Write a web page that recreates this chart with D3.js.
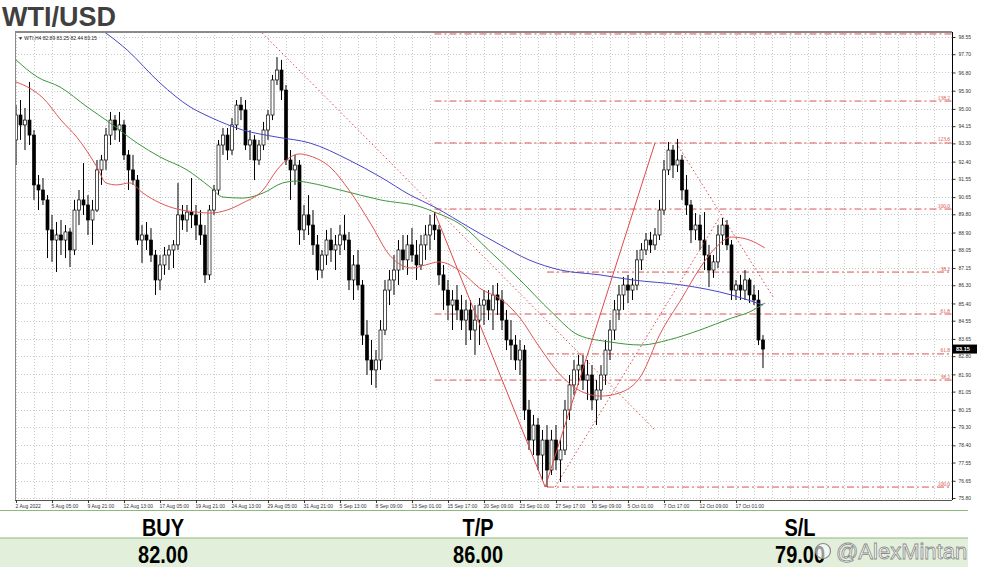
<!DOCTYPE html>
<html><head><meta charset="utf-8">
<script src="https://cdn.jsdelivr.net/npm/d3@7"></script>
<style>html,body{margin:0;padding:0;background:#fff;} svg{display:block;}</style>
</head><body><svg id="c" width="982" height="586"></svg>
<script>
const titleText = "WTI/USD";
const headerText = "\u25BC WTI,H4  82.89 83.25 82.44 83.15";
const xTickLabels = ["2 Aug 2022","5 Aug 05:00","9 Aug 21:00","12 Aug 13:00","17 Aug 05:00","19 Aug 21:00","24 Aug 13:00","29 Aug 05:00","31 Aug 21:00","5 Sep 13:00","8 Sep 09:00","13 Sep 01:00","15 Sep 17:00","20 Sep 09:00","23 Sep 01:00","27 Sep 17:00","30 Sep 09:00","5 Oct 01:00","7 Oct 17:00","12 Oct 09:00","17 Oct 01:00"];
const yTickLabels = [98.55,97.70,96.80,95.90,95.00,94.15,93.30,92.40,91.55,90.65,89.80,88.90,88.05,87.15,86.30,85.40,84.55,83.65,82.80,81.90,81.05,80.15,79.30,78.40,77.55,76.65,75.80];

const opens = [93.47,94.70,94.21,94.45,93.71,91.25,91.00,90.51,89.03,88.53,
88.78,88.53,88.93,88.04,90.01,90.51,90.26,89.52,90.01,91.99,
92.48,93.71,94.45,93.96,94.21,92.73,91.99,91.49,88.53,88.78,
88.53,87.79,86.56,87.30,87.79,88.04,88.29,89.77,89.52,89.91,
89.77,89.27,88.78,86.81,90.01,91.00,93.22,93.71,92.97,94.21,
95.19,94.95,93.22,93.47,92.48,93.22,93.96,94.70,96.43,96.92,
95.93,92.48,91.99,92.23,89.03,89.77,89.27,88.29,87.05,87.79,
88.53,88.04,88.29,88.78,88.53,86.56,87.30,86.31,83.84,82.61,
82.12,82.61,84.09,86.06,86.56,87.05,88.04,87.55,88.29,87.79,
87.30,88.29,88.78,89.27,89.03,86.81,86.06,85.32,85.57,85.08,
84.58,85.08,84.09,84.58,85.32,85.57,85.08,85.82,85.57,84.58,
83.60,83.35,82.61,83.10,80.14,78.66,79.40,77.92,78.66,77.18,
78.66,77.68,78.17,80.14,81.38,82.12,82.36,81.62,81.87,80.64,
81.13,81.87,83.10,84.09,85.08,85.82,86.31,86.06,86.31,87.55,
88.04,88.53,88.29,88.78,90.01,91.99,92.97,92.23,92.48,91.00,
90.26,89.03,89.27,88.53,87.79,87.05,87.45,88.78,89.27,88.29,
86.06,86.31,86.06,86.56,85.82,85.57,83.60];
const highs = [95.19,95.44,95.05,96.33,93.96,91.74,91.59,90.75,89.77,89.42,
89.52,89.27,89.12,90.51,91.00,92.33,90.75,90.51,92.48,92.73,
94.06,94.85,94.70,94.85,94.45,92.97,92.73,91.74,89.27,89.42,
89.12,88.04,87.79,88.19,88.29,88.53,91.35,90.26,90.26,91.59,
90.26,90.01,89.27,90.26,91.25,93.47,94.06,94.06,94.55,95.44,
95.59,95.44,93.96,93.71,93.47,94.36,94.95,96.68,97.56,97.42,
96.18,92.97,92.73,92.48,90.26,90.75,90.01,88.78,88.04,89.03,
89.12,88.78,89.27,89.77,88.93,87.79,88.04,86.56,84.58,83.60,
83.10,84.58,86.56,87.05,87.79,88.53,88.78,88.78,89.12,88.53,
88.78,89.27,89.77,89.91,89.27,87.30,86.56,86.06,86.31,85.82,
85.57,85.57,85.32,85.67,86.06,86.06,86.31,86.41,86.06,85.08,
84.58,83.84,83.60,83.35,80.64,79.90,79.75,79.16,79.40,79.16,
79.40,78.66,80.64,81.87,82.61,82.86,82.86,82.61,82.36,81.62,
82.36,83.60,84.58,85.57,86.31,86.71,86.81,86.66,88.04,88.38,
88.88,88.93,89.12,90.51,92.48,93.37,93.22,93.52,92.73,91.74,
90.51,89.86,89.77,89.91,88.29,87.79,89.27,89.62,89.52,88.53,
86.56,86.81,87.05,86.66,86.31,86.06,83.84];
const lows = [92.23,93.47,92.97,93.22,90.51,90.01,90.26,87.64,87.45,86.95,
87.79,87.64,87.20,87.79,89.27,89.77,88.78,88.29,89.91,91.25,
91.99,93.22,93.47,93.37,92.48,91.00,91.25,88.29,87.40,88.04,
87.45,85.82,86.06,86.81,87.05,87.15,88.04,89.03,88.93,89.12,
88.53,88.29,86.41,86.56,89.77,90.75,92.73,92.48,92.73,93.96,
94.45,92.97,92.48,91.49,92.23,92.97,93.47,94.45,96.18,95.44,
92.23,90.51,91.25,88.29,88.53,88.78,87.79,86.56,86.66,87.30,
87.45,87.05,87.79,88.04,86.06,85.57,86.06,83.35,81.87,81.38,
81.23,82.12,83.84,85.32,85.82,86.31,87.05,86.81,87.45,86.56,
87.05,87.55,88.04,88.53,86.31,85.08,84.58,84.09,84.58,84.09,
83.35,83.60,82.86,83.35,84.34,84.58,84.09,84.83,84.09,83.10,
82.61,82.12,81.87,79.65,78.17,77.92,77.18,76.69,76.34,76.94,
77.18,76.59,77.92,79.65,80.88,81.38,81.13,80.64,80.14,79.40,
80.64,81.38,82.61,83.60,84.58,85.08,85.42,85.57,86.06,87.05,
87.79,87.89,88.04,88.53,89.77,91.74,91.59,91.89,90.51,89.77,
88.38,88.53,88.04,87.05,86.21,86.66,87.15,88.29,88.04,85.57,
85.57,85.57,85.57,85.42,85.32,83.35,82.21];
const closes = [94.70,94.21,94.45,93.71,91.25,91.00,90.51,89.03,88.53,88.78,
88.53,88.93,88.04,90.01,90.51,90.26,89.52,90.01,91.99,92.48,
93.71,94.45,93.96,94.21,92.73,91.99,91.49,88.53,88.78,88.53,
87.79,86.56,87.30,87.79,88.04,88.29,89.77,89.52,89.91,89.77,
89.27,88.78,86.81,90.01,91.00,93.22,93.71,92.97,94.21,95.19,
94.95,93.22,93.47,92.48,93.22,93.96,94.70,96.43,96.92,95.93,
92.48,91.99,92.23,89.03,89.77,89.27,88.29,87.05,87.79,88.53,
88.04,88.29,88.78,88.53,86.56,87.30,86.31,83.84,82.61,82.12,
82.61,84.09,86.06,86.56,87.05,88.04,87.55,88.29,87.79,87.30,
88.29,88.78,89.27,89.03,86.81,86.06,85.32,85.57,85.08,84.58,
85.08,84.09,84.58,85.32,85.57,85.08,85.82,85.57,84.58,83.60,
83.35,82.61,83.10,80.14,78.66,79.40,77.92,78.66,77.18,78.66,
77.68,78.17,80.14,81.38,82.12,82.36,81.62,81.87,80.64,81.13,
81.87,83.10,84.09,85.08,85.82,86.31,86.06,86.31,87.55,88.04,
88.53,88.29,88.78,90.01,91.99,92.97,92.23,92.48,91.00,90.26,
89.03,89.27,88.53,87.79,87.05,87.45,88.78,89.27,88.29,86.06,
86.31,86.06,86.56,85.82,85.57,83.60,83.15];

// moving averages: [bar index, price]
const redMA = [[0,96.33],[3,96.03],[6,95.54],[10,94.45],[13.5,93.61],[18,92.13],[20,91.35],[22.4,91.25],[25.3,91.35],[28.2,90.85],[32,90.36],[35.8,90.06],[40.2,89.91],[43.1,89.86],[46.9,90.01],[50.4,90.36],[54.9,91.00],[58,91.99],[61,92.63],[63,92.78],[65.3,92.68],[70,92.09],[74,91.00],[79,89.27],[83,87.79],[88,87.15],[91,87.30],[94,87.45],[99,86.95],[103,86.16],[108,85.57],[112,84.68],[116,83.35],[121,81.87],[125,81.13],[130,80.83],[134,80.98],[139,81.87],[143,83.84],[148,85.67],[152,87.15],[155,88.04],[159,88.68],[163,88.53],[166.4,88.14]];
const greenMA = [[0,97.42],[4.7,96.58],[9.8,96.08],[15.8,95.10],[20.9,94.31],[26.9,93.32],[32,92.63],[38,91.99],[43.1,91.15],[46,90.65],[50.4,90.60],[54.9,90.85],[59.3,91.35],[62.4,91.44],[65.3,91.35],[72,91.00],[81,90.51],[90,90.16],[93,89.91],[99,89.27],[105,88.04],[112,86.56],[119,84.98],[125,83.84],[132,83.50],[139,83.35],[145,83.60],[152,84.09],[159,84.68],[163,84.98],[166.4,85.42]];
const blueMA = [[17.5,99.14],[24.7,97.91],[32,96.28],[38.7,95.10],[43.1,94.60],[50.4,93.96],[58,93.61],[65.3,93.32],[74,92.48],[81,91.64],[87.6,90.75],[93,90.16],[101,89.12],[107.6,88.29],[114,87.55],[121,87.05],[129.8,86.81],[137,86.56],[148,86.31],[159,85.82],[166,85.32]];

// fibonacci levels: price, label, starting bar
const fibPrices = [98.70,95.39,93.32,90.06,86.95,84.88,82.91,81.62,76.34];
const fibNames  = ["","138.2","123.6","100.0","38.2","61.8","61.8","38.2","100.0"];
const fibStart  = [93,93,93,93,118,93,118,93,118];

// trend lines: [bar, price, bar, price]
const solidLines = [[93.1,89.86,117.6,76.34],[117.6,76.34,142,93.32]];
const dottedLines = [[54.7,98.75,142,79.16],[146.7,93.32,168.2,85.74],[119.8,76.34,156.4,89.67]];

const lastPrice = 83.15;
const tableHeads = ["BUY","T/P","S/L"];
const tableValues = ["82.00","86.00","79.00"];
const watermark = "@AlexMintan";

const svg = d3.select("#c");
const L=15, R=952, T=32, B=500;
const x = d3.scaleLinear().domain([-0.222, 208]).range([L, R]);
const y = d3.scaleLinear().domain([75.80, 98.55]).range([498, 37]);

svg.append("rect").attr("width",982).attr("height",586).attr("fill","#fff");

// title
svg.append("text").attr("x",2).attr("y",26).text(titleText)
  .attr("font-family","'Liberation Sans',sans-serif").attr("font-weight",700)
  .attr("font-size",27).attr("fill","#404040");

svg.append("defs").append("clipPath").attr("id","clip")
  .append("rect").attr("x",L).attr("y",T).attr("width",R-L).attr("height",B-T);

// grid
const grid = svg.append("g").attr("shape-rendering","crispEdges");
grid.selectAll("line.h").data(yTickLabels).join("line")
  .attr("x1",L).attr("x2",R).attr("y1",d=>Math.round(y(d))+0.5).attr("y2",d=>Math.round(y(d))+0.5)
  .attr("stroke","#c9c9c9").attr("stroke-dasharray","1,2");
grid.selectAll("line.v").data(d3.range(0,208,4)).join("line")
  .attr("y1",T).attr("y2",B).attr("x1",d=>Math.round(x(d))+0.5).attr("x2",d=>Math.round(x(d))+0.5)
  .attr("stroke","#c9c9c9").attr("stroke-dasharray","1,2");

const plot = svg.append("g").attr("clip-path","url(#clip)");

// fib lines
const fibColor = "#d9534f";
fibPrices.forEach((p,k)=>{
  plot.append("line").attr("x1",x(fibStart[k])).attr("x2",R)
    .attr("y1",y(p)).attr("y2",y(p)).attr("stroke",fibColor).attr("stroke-width",1)
    .attr("stroke-dasharray","7,3,2,3");
  if (fibNames[k]) plot.append("text").attr("x",R-2).attr("y",y(p)-1.5)
    .attr("text-anchor","end").attr("font-size",5.5).attr("font-family","'Liberation Serif',serif")
    .attr("fill",fibColor).text(fibNames[k]);
});

// candles
const bars = d3.range(opens.length);
const cg = plot.append("g");
cg.selectAll("line.w").data(bars).join("line")
  .attr("x1",i=>x(i)).attr("x2",i=>x(i)).attr("y1",i=>y(highs[i])).attr("y2",i=>y(lows[i]))
  .attr("stroke","#000").attr("stroke-width",1);
cg.selectAll("rect.b").data(bars).join("rect")
  .attr("x",i=>x(i)-1.5).attr("width",3)
  .attr("y",i=>y(Math.max(opens[i],closes[i])))
  .attr("height",i=>Math.max(0.8,Math.abs(y(opens[i])-y(closes[i]))))
  .attr("fill",i=>closes[i]>=opens[i]?"#fff":"#000")
  .attr("stroke","#000").attr("stroke-width",0.7);

// moving averages
const maLine = d3.line().x(d=>x(d[0])).y(d=>y(d[1])).curve(d3.curveMonotoneX);
plot.append("path").attr("d",maLine(blueMA)).attr("fill","none").attr("stroke","#4646c8").attr("stroke-width",1);
plot.append("path").attr("d",maLine(greenMA)).attr("fill","none").attr("stroke","#3c963c").attr("stroke-width",1);
plot.append("path").attr("d",maLine(redMA)).attr("fill","none").attr("stroke","#e05555").attr("stroke-width",1);

// trend lines
solidLines.forEach(l=>plot.append("line").attr("x1",x(l[0])).attr("y1",y(l[1])).attr("x2",x(l[2])).attr("y2",y(l[3]))
  .attr("stroke","#e04848").attr("stroke-width",1));
dottedLines.forEach(l=>plot.append("line").attr("x1",x(l[0])).attr("y1",y(l[1])).attr("x2",x(l[2])).attr("y2",y(l[3]))
  .attr("stroke","#e04848").attr("stroke-width",1).attr("stroke-dasharray","1.5,2.5"));

// header text
svg.append("text").attr("x",18).attr("y",39.5).text(headerText)
  .attr("font-size",5).attr("font-family","'Liberation Sans',sans-serif").attr("fill","#222");

// frame
svg.append("line").attr("x1",L).attr("x2",R).attr("y1",T).attr("y2",T).attr("stroke","#8a8a8a").attr("stroke-width",2);
svg.append("line").attr("x1",L+0.5).attr("x2",L+0.5).attr("y1",T).attr("y2",B).attr("stroke","#8a8a8a");
svg.append("line").attr("x1",L).attr("x2",R).attr("y1",B+0.5).attr("y2",B+0.5).attr("stroke","#555");

// right axis
const ya = svg.append("g").attr("transform",`translate(${R+0.5},0)`)
  .call(d3.axisRight(y).tickValues(yTickLabels).tickFormat(d3.format(".2f")).tickSize(3).tickPadding(3));
ya.select(".domain").attr("d",`M0,${T}V${B}`).attr("stroke","#000");
ya.selectAll("text").attr("font-size",5).attr("font-family","'Liberation Sans',sans-serif").attr("fill","#333");
ya.selectAll("line").attr("stroke","#333");

// bottom axis
const xa = svg.append("g").attr("transform",`translate(0,${B})`)
  .call(d3.axisBottom(x).tickValues(d3.range(0,161,8)).tickFormat((d,k)=>xTickLabels[k]).tickSize(3).tickPadding(1));
xa.select(".domain").remove();
xa.selectAll("text").attr("text-anchor","start").attr("dx",-1).attr("font-size",5)
  .attr("font-family","'Liberation Sans',sans-serif").attr("fill","#333");
xa.selectAll("line").attr("stroke","#333");

// last price box
svg.append("rect").attr("x",R+1).attr("y",y(lastPrice)-4.5).attr("width",24).attr("height",9).attr("fill","#000");
svg.append("text").attr("x",R+4).attr("y",y(lastPrice)+2).text(lastPrice.toFixed(2))
  .attr("font-size",5.5).attr("font-weight","bold").attr("font-family","'Liberation Sans',sans-serif").attr("fill","#fff");

// table
const colX = [163,478,800];
svg.append("line").attr("x1",0).attr("x2",968).attr("y1",510.5).attr("y2",510.5).attr("stroke","#8fb87c");
svg.append("rect").attr("x",0).attr("y",538).attr("width",968).attr("height",29).attr("fill","#e2efda");
svg.append("line").attr("x1",0).attr("x2",968).attr("y1",538).attr("y2",538).attr("stroke","#8fb87c");
const tf = "'Liberation Sans',sans-serif";
tableHeads.forEach((t,k)=>svg.append("text").attr("transform",`translate(${colX[k]},535.5) scale(0.85,1)`)
  .attr("text-anchor","middle").attr("font-family",tf).attr("font-weight","bold")
  .attr("font-size",23.5).attr("fill","#000").text(t));
tableValues.forEach((t,k)=>svg.append("text").attr("transform",`translate(${colX[k]},562.5) scale(0.85,1)`)
  .attr("text-anchor","middle").attr("font-family",tf).attr("font-weight","bold")
  .attr("font-size",23.5).attr("fill","#000").text(t));

// watermark
svg.append("circle").attr("cx",823).attr("cy",551).attr("r",7.5).attr("fill","rgba(255,255,255,0.6)").attr("stroke","#888").attr("stroke-width",1.2);
svg.append("text").attr("x",836).attr("y",559).text(watermark)
  .attr("font-family","'Liberation Sans',sans-serif").attr("font-size",22)
  .attr("fill","#fff").attr("stroke","#8a8a8a").attr("stroke-width",0.8);
</script></body></html>
